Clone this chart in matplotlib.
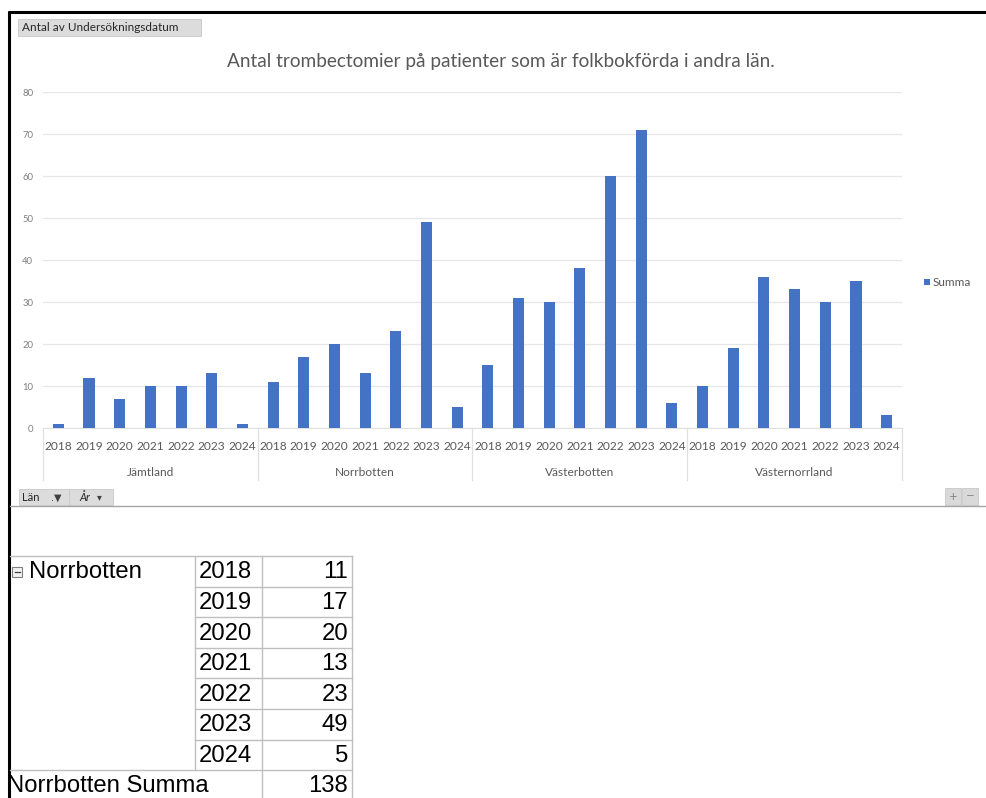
import numpy as np
import matplotlib
matplotlib.use("Agg")
import matplotlib.pyplot as plt
from matplotlib.patches import Rectangle
import matplotlib.transforms as mtransforms

# data
lan = ['Jämtland', 'Norrbotten', 'Västerbotten', 'Västernorrland']
years = ['2018', '2019', '2020', '2021', '2022', '2023', '2024']
jamtland = [1, 12, 7, 10, 10, 13, 1]
norrbotten = [11, 17, 20, 13, 23, 49, 5]
vasterbotten = [15, 31, 30, 38, 60, 71, 6]
vasternorrland = [10, 19, 36, 33, 30, 35, 3]
yticks = [0, 10, 20, 30, 40, 50, 60, 70, 80]

title = 'Antal trombectomier på patienter som är folkbokförda i andra län.'
bar_color = '#4472C4'
grey_txt = '#595959'

W, H = 987, 798
fig = plt.figure(figsize=(W / 100, H / 100), dpi=100)

# overlay axes in pixel coordinates for the Excel frame, buttons and the pivot table
ov = fig.add_axes([0, 0, 1, 1])
ov.set_xlim(0, W)
ov.set_ylim(H, 0)
ov.axis('off')

# black frame
ov.plot([9, 9], [11, H], color='black', lw=2.2, solid_capstyle='butt')
ov.plot([8, W], [11.5, 11.5], color='black', lw=2.2, solid_capstyle='butt')
# separator below chart
ov.plot([10, W], [506, 506], color='#a6a6a6', lw=1)

# "Antal av Undersökningsdatum" field button
ov.add_patch(Rectangle((18, 19), 183, 17, facecolor='#dcdcdc', edgecolor='#c8c8c8', lw=0.6))
ov.text(22, 27.5, 'Antal av Undersökningsdatum', fontsize=8.5, family='Lato',
        color='#262626', va='center', ha='left')

# Län / År field buttons
ov.add_patch(Rectangle((19, 489), 50, 16, facecolor='#dcdcdc', edgecolor='#c8c8c8', lw=0.6))
ov.add_patch(Rectangle((69, 489), 44, 16, facecolor='#dcdcdc', edgecolor='#c8c8c8', lw=0.6))
ov.text(22, 497.5, 'Län', fontsize=8, family='Lato', color='#262626', va='center')
ov.text(51, 497.5, '.▼', fontsize=7, family='DejaVu Sans', color='#404040', va='center')
ov.text(79, 497.5, 'År', fontsize=8, family='Lato', color='#262626', va='center', style='italic')
ov.text(97, 497.5, '▾', fontsize=7, family='DejaVu Sans', color='#404040', va='center')

# +/- buttons
ov.add_patch(Rectangle((945, 488), 16, 17, facecolor='#d9d9d9', edgecolor='#c8c8c8', lw=0.6))
ov.add_patch(Rectangle((962, 488), 16, 17, facecolor='#d9d9d9', edgecolor='#c8c8c8', lw=0.6))
ov.text(953, 496.5, '+', fontsize=7.5, color='#808080', ha='center', va='center')
ov.text(970, 496.5, '−', fontsize=7.5, color='#808080', ha='center', va='center')

# title
ov.text(501, 62, title, fontsize=13.7, family='Lato', color=grey_txt, ha='center', va='center')

# legend
ov.add_patch(Rectangle((924, 279), 6, 6, facecolor=bar_color, edgecolor='none'))
ov.text(933, 282.5, 'Summa', fontsize=8.5, family='Lato', color=grey_txt, va='center')

# pivot table for Norrbotten
col_x = [10, 195, 262, 352]
row_top = 556
row_h = 30.6
tfont = dict(fontsize=17.2, family='Liberation Sans', color='black', va='center')
line_c = '#bfbfbf'
n = len(years)
ov.plot([col_x[0], col_x[3]], [row_top, row_top], color=line_c, lw=1)
for i, (yr, v) in enumerate(zip(years, norrbotten)):
    yc = row_top + (i + 0.5) * row_h + 1
    ov.text(col_x[1] + 4, yc, yr, ha='left', **tfont)
    ov.text(col_x[3] - 4, yc, str(v), ha='right', **tfont)
    yb = row_top + (i + 1) * row_h
    x0 = col_x[1] if i < n - 1 else col_x[0]
    ov.plot([x0, col_x[3]], [yb, yb], color=line_c, lw=1)
ov.plot([col_x[1], col_x[1]], [row_top, row_top + n * row_h], color=line_c, lw=1)
ov.plot([col_x[2], col_x[2]], [row_top, H], color=line_c, lw=1)
ov.plot([col_x[3], col_x[3]], [row_top, H], color=line_c, lw=1)
# collapse box and labels
ov.add_patch(Rectangle((12, 567), 10, 10, facecolor='#f2f2f2', edgecolor='#7f7f7f', lw=0.8))
ov.plot([14.5, 19.5], [572, 572], color='#404040', lw=0.9)
ov.text(29, row_top + 0.5 * row_h + 1, lan[1], ha='left', **tfont)
ysum = row_top + (n + 0.5) * row_h + 1
ov.text(7, ysum, lan[1] + ' Summa', ha='left', **tfont)
ov.text(col_x[3] - 4, ysum, str(sum(norrbotten)), ha='right', **tfont)

# chart axes
left, right, top, bottom = 43, 902, 92, 428
ax = fig.add_axes([left / W, 1 - bottom / H, (right - left) / W, (bottom - top) / H])
ax.patch.set_alpha(0)

values = jamtland + norrbotten + vasterbotten + vasternorrland
x = np.arange(len(values))
ax.bar(x, values, width=0.36, color=bar_color, zorder=3)
ax.set_xlim(-0.5, len(values) - 0.5)
ax.set_ylim(0, 80)
ax.set_yticks(yticks)
ax.set_yticklabels([str(t) for t in yticks], fontsize=6.8, family='Lato', color='#7f7f7f')
ax.tick_params(axis='y', length=0, pad=7)
ax.grid(axis='y', color='#e6e6e6', lw=0.9, zorder=0)
ax.set_xticks(x)
ax.set_xticklabels(years * len(lan), fontsize=8.6, family='Lato', color=grey_txt)
ax.tick_params(axis='x', length=0, pad=9)
for s in ['top', 'right', 'left']:
    ax.spines[s].set_visible(False)
ax.spines['bottom'].set_color('#e0e0e0')

# group labels and dividers below the axis
trans = mtransforms.blended_transform_factory(ax.transData, ax.transAxes)
axh = bottom - top
for g in range(len(lan) + 1):
    xd = g * len(years) - 0.5
    ax.plot([xd, xd], [0, -52 / axh], color='#e0e0e0', lw=0.9, transform=trans, clip_on=False)
for g, name in enumerate(lan):
    xc = g * len(years) + (len(years) - 1) / 2
    ax.text(xc, -44 / axh, name, transform=trans, ha='center', va='center',
            fontsize=8.6, family='Lato', color=grey_txt)

fig.savefig('out.png', dpi=100)
